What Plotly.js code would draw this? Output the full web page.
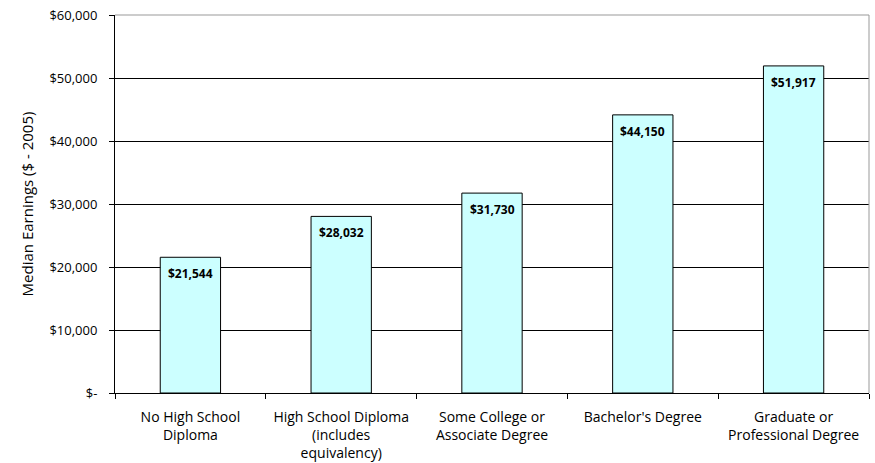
<!DOCTYPE html>
<html>
<head>
<meta charset="utf-8">
<script src="https://cdn.plot.ly/plotly-3.0.1.min.js"></script>
<style>html,body{margin:0;padding:0;background:#fff;}#chart{width:875px;height:463px;}</style>
</head>
<body>
<div id="chart"></div>
<script>
const categories = ["No High School<br>Diploma", "High School Diploma<br>(includes<br>equivalency)", "Some College or<br>Associate Degree", "Bachelor's Degree", "Graduate or<br>Professional Degree"];
const earnings = [21544, 28032, 31730, 44150, 51917];
const labels = ["$21,544", "$28,032", "$31,730", "$44,150", "$51,917"];
const yTickVals = [0, 10000, 20000, 30000, 40000, 50000, 60000];
const yTickText = ["$-", "$10,000", "$20,000", "$30,000", "$40,000", "$50,000", "$60,000"];

const font = "Open Sans, Liberation Sans, sans-serif";

const annotations = categories.map((c, i) => ({
  x: c, y: earnings[i], xref: "x", yref: "y",
  text: "<b>" + labels[i] + "</b>",
  showarrow: false, yanchor: "top", yshift: -6,
  font: {family: font, size: 12, color: "#000"}
}));

Plotly.newPlot("chart", [{
  type: "bar",
  x: categories,
  y: earnings,
  marker: {color: "#CCFFFF", line: {color: "#000", width: 1}},
  hoverinfo: "none"
}], {
  width: 875, height: 463,
  margin: {l: 115, r: 6, t: 15, b: 70},
  paper_bgcolor: "#fff", plot_bgcolor: "#fff",
  bargap: 0.6,
  font: {family: font, size: 12, color: "#000"},
  showlegend: false,
  annotations: annotations,
  xaxis: {
    type: "category",
    tickson: "boundaries",
    ticks: "outside", ticklen: 5, tickcolor: "#000",
    ticklabelstandoff: 11,
    showline: true, linecolor: "#000", linewidth: 1,
    showgrid: false,
    tickfont: {family: font, size: 14, color: "#000"}
  },
  yaxis: {
    range: [0, 60000],
    tickvals: yTickVals, ticktext: yTickText,
    ticks: "outside", ticklen: 5, tickcolor: "#000",
    ticklabelstandoff: 9,
    showline: true, linecolor: "#000", linewidth: 1,
    showgrid: true, gridcolor: "#000", gridwidth: 1,
    zeroline: false,
    tickfont: {family: font, size: 13, color: "#000"},
    title: {text: "Median Earnings ($ - 2005)", font: {family: font, size: 15, color: "#000"}, standoff: 12}
  },
  shapes: [
    {type: "line", xref: "paper", yref: "paper", x0: 0, x1: 1, y0: 1, y1: 1, line: {color: "#999", width: 1}},
    {type: "line", xref: "paper", yref: "paper", x0: 1, x1: 1, y0: 0, y1: 1, line: {color: "#999", width: 1}}
  ]
}, {staticPlot: true});
</script>
</body>
</html>
